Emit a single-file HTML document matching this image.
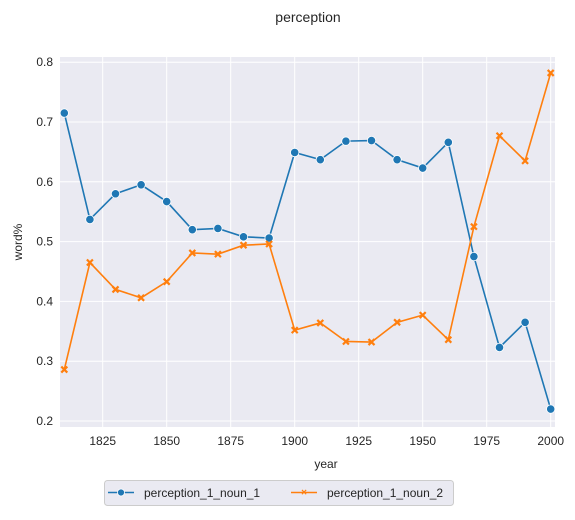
<!DOCTYPE html>
<html><head><meta charset="utf-8"><style>
body{margin:0;background:#fff;font-family:"Liberation Sans",Arial,sans-serif;}
svg text{font-family:"Liberation Sans",Arial,sans-serif;fill:#262626;}
</style></head><body>
<svg id="chart" width="575" height="515" xmlns="http://www.w3.org/2000/svg">
<text x="308" y="22" font-size="14" text-anchor="middle">perception</text>
<rect x="60" y="57" width="495" height="370" fill="#eaeaf2"/>
<g id="grid"></g><g id="series"></g>
<text x="326" y="468" font-size="12" text-anchor="middle">year</text>
<text transform="translate(22,242) rotate(-90)" font-size="12" text-anchor="middle">word%</text>
<g>
<rect x="104.5" y="480.5" width="349" height="25" rx="3" fill="#eaeaf2" stroke="#cccccc"/>
<line x1="108" y1="492.5" x2="134" y2="492.5" stroke="#1f77b4" stroke-width="1.5"/>
<circle cx="121" cy="492.5" r="3.5" fill="#1f77b4" stroke="#fff" stroke-width="0.8"/>
<text x="144" y="497" font-size="12">perception_1_noun_1</text>
<line x1="291" y1="492.5" x2="317" y2="492.5" stroke="#ff7f0e" stroke-width="1.5"/>
<text x="304" y="495.5" font-size="10" font-weight="bold" fill="#ff7f0e" text-anchor="middle" style="fill:#ff7f0e">×</text>
<text x="327" y="497" font-size="12">perception_1_noun_2</text>
</g>
</svg>
<script>
const years=[1810,1820,1830,1840,1850,1860,1870,1880,1890,1900,1910,1920,1930,1940,1950,1960,1970,1980,1990,2000];
const noun1=[.715,.537,.580,.595,.567,.520,.522,.508,.506,.649,.637,.668,.669,.637,.623,.666,.475,.323,.365,.220];
const noun2=[.286,.465,.420,.406,.433,.481,.479,.494,.496,.352,.364,.333,.332,.365,.377,.336,.525,.677,.635,.782];
const xTicks=[1825,1850,1875,1900,1925,1950,1975,2000];
const yTicks=[0.2,0.3,0.4,0.5,0.6,0.7,0.8];
const NS="http://www.w3.org/2000/svg";
const X=v=>64.3+(v-1810)*2.56;
const Y=v=>421-(v-0.2)*598;
const grid=document.getElementById('grid'),ser=document.getElementById('series'),svg=document.getElementById('chart');
function mk(t,a,p){const e=document.createElementNS(NS,t);for(const k in a)e.setAttribute(k,a[k]);(p||svg).appendChild(e);return e;}
xTicks.forEach(t=>{
 const l=mk('line',{x1:X(t),x2:X(t),y1:57,y2:427,stroke:'#fff','stroke-width':1},grid);
 
 
 const s=mk('text',{x:X(t),y:445,'font-size':12,'text-anchor':'middle'});
 s.textContent=t;
 
 
});
yTicks.forEach(t=>{
 const l=mk('line',{x1:60,x2:555,y1:Y(t),y2:Y(t),stroke:'#fff','stroke-width':1},grid);
 
 
 const s=mk('text',{x:53,y:Y(t)+4,'font-size':12,'text-anchor':'end'});
 s.textContent=t.toFixed(1);
 
 
});
function draw(vals,color,marker,name){
 const p=mk('polyline',{points:years.map((y,i)=>X(y)+','+Y(vals[i])).join(' '),fill:'none',stroke:color,'stroke-width':1.6},ser);
 
 
 years.forEach((y,i)=>{
  const cx=X(y),cy=Y(vals[i]);let m;
  if(marker==='o'){m=mk('circle',{cx:cx,cy:cy,r:4.2,fill:color,stroke:'#fff','stroke-width':0.8},ser);}
  else{m=mk('path',{d:`M${cx-3},${cy-3}L${cx+3},${cy+3}M${cx-3},${cy+3}L${cx+3},${cy-3}`,stroke:color,'stroke-width':2.2,fill:'none'},ser);}
  
  
 });
}
draw(noun1,'#1f77b4','o','noun-1');
draw(noun2,'#ff7f0e','x','noun-2');
</script>
</body></html>
